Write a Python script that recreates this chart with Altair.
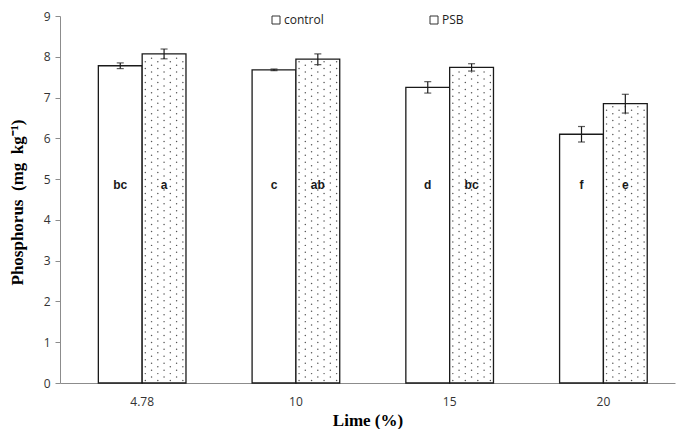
import altair as alt
import pandas as pd

lime = ["4.78", "10", "15", "20"]
groups = ["control", "PSB"]
control = [7.78, 7.68, 7.25, 6.10]
psb = [8.07, 7.94, 7.74, 6.85]
control_err = [0.07, 0.02, 0.14, 0.19]
psb_err = [0.12, 0.13, 0.09, 0.23]
control_letters = ["bc", "c", "d", "f"]
psb_letters = ["a", "ab", "bc", "e"]
letter_level = 4.85
y_ticks = [0, 1, 2, 3, 4, 5, 6, 7, 8, 9]

rows = []
for i, l in enumerate(lime):
    rows.append(dict(lime=l, group="control", value=control[i], err=control_err[i], letter=control_letters[i]))
    rows.append(dict(lime=l, group="PSB", value=psb[i], err=psb_err[i], letter=psb_letters[i]))
df = pd.DataFrame(rows)
df["lo"] = df["value"] - df["err"]
df["hi"] = df["value"] + df["err"]
df["ly"] = letter_level

INK = "#1a1a1a"
AXIS_GRAY = "#8c8c8c"

x = alt.X(
    "lime:N", sort=lime,
    scale=alt.Scale(paddingInner=0.43, paddingOuter=0.215, align=0.58),
    axis=alt.Axis(title="Lime (%)", labelAngle=0, ticks=False, domainColor=AXIS_GRAY,
                  labelFont="Open Sans", labelFontSize=12, labelColor="#333333", labelPadding=13,
                  titleFont="Liberation Serif", titleFontWeight="bold", titleFontSize=17,
                  titleColor="#000000", titlePadding=5),
)
xo = alt.XOffset("group:N", scale=alt.Scale(domain=groups))
yscale = alt.Scale(domain=[0, 9], nice=False)
yaxis = alt.Axis(values=y_ticks, grid=False, title="Phosphorus\u00a0\u00a0(mg\u00a0\u00a0kg⁻¹)",
                 titleFont="Liberation Serif", titleFontWeight="bold", titleFontSize=17,
                 titleColor="#000000", titleX=-43, titleY=186, titleAlign="center",
                 titleBaseline="middle", titleAngle=-90,
                 labelFont="Open Sans", labelFontSize=12, labelColor="#333333", labelPadding=5,
                 domainColor=AXIS_GRAY, tickColor=AXIS_GRAY, tickSize=5)

base = alt.Chart(df)

bars = base.mark_bar(stroke=INK, strokeWidth=1.3).encode(
    x=x, xOffset=xo,
    y=alt.Y("value:Q", scale=yscale, axis=yaxis),
    fill=alt.Fill("group:N", scale=alt.Scale(domain=groups, range=["white", "white"]),
                  legend=alt.Legend(title=None, orient="none", legendX=210, legendY=-2,
                                    direction="horizontal", columnPadding=104,
                                    symbolType="square", symbolSize=64,
                                    symbolStrokeColor="#333333", symbolStrokeWidth=1,
                                    labelFont="Open Sans", labelFontSize=12,
                                    labelColor="#222222", labelOffset=2)),
)

dots = base.transform_filter("datum.group == 'PSB'").transform_calculate(
    col="sequence(0, 7)"
).transform_flatten(["col"]).transform_calculate(
    r="sequence(datum.col % 2 == 0 ? 0.06 : 0.145, datum.value - 0.04, 0.17)",
    off="0.5 + (datum.col + 0.5) / 14",
).transform_flatten(["r"]).mark_circle(size=2.2, color="#555555", opacity=1).encode(
    x=x,
    xOffset=alt.XOffset("off:Q", scale=alt.Scale(domain=[0, 1])),
    y=alt.Y("r:Q", scale=yscale),
)

err = base.mark_rule(color=INK, strokeWidth=1.2).encode(
    x=x, xOffset=xo, y=alt.Y("lo:Q", scale=yscale), y2="hi:Q")
cap_lo = base.mark_tick(color=INK, size=7, thickness=1.2).encode(
    x=x, xOffset=xo, y=alt.Y("lo:Q", scale=yscale))
cap_hi = base.mark_tick(color=INK, size=7, thickness=1.2).encode(
    x=x, xOffset=xo, y=alt.Y("hi:Q", scale=yscale))

letters = base.mark_text(font="Liberation Sans", fontWeight="bold", fontSize=12, color=INK).encode(
    x=x, xOffset=xo, y=alt.Y("ly:Q", scale=yscale), text="letter:N")

chart = alt.layer(bars, dots, err, cap_lo, cap_hi, letters).resolve_scale(
    xOffset="independent"
).properties(
    width=615, height=367,
    autosize=alt.AutoSizeParams(type="none"),
    padding={"left": 52, "top": 8, "right": 2, "bottom": 46},
    background="white",
).configure_view(stroke=None)

chart.save("out.html", embed_options={"renderer": "svg", "actions": False})
